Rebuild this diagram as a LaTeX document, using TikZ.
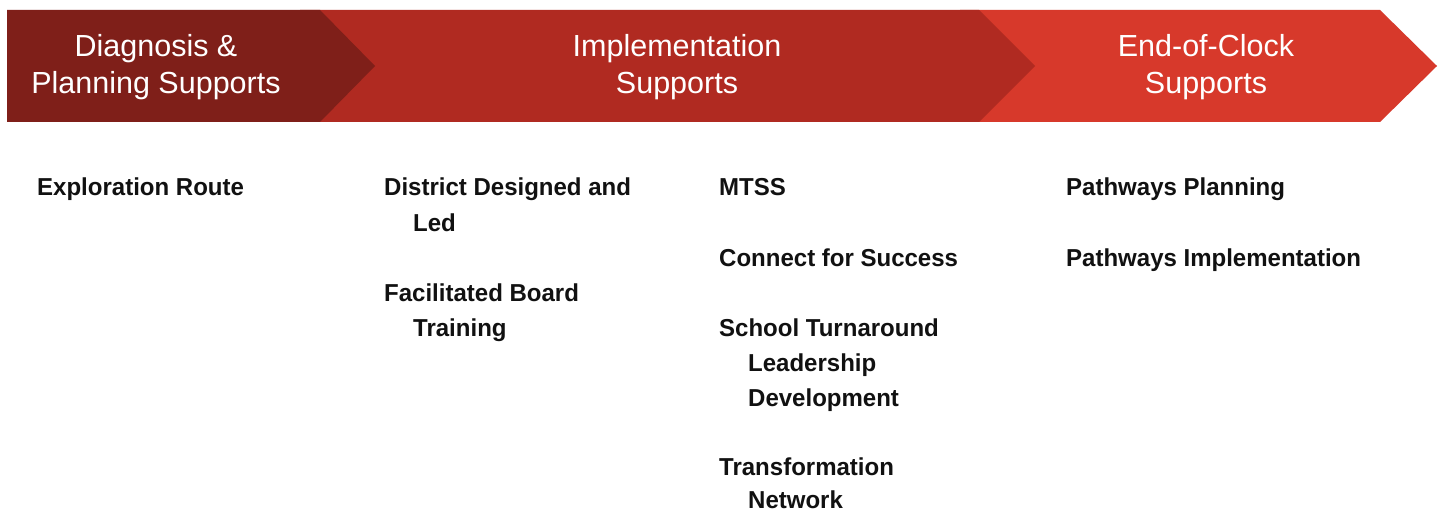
\documentclass[tikz,border=0pt]{standalone}
\usepackage{fontspec}
\setmainfont{Liberation Sans}
\newfontfamily\headfont{Liberation Sans}
\newfontfamily\bodyfont[FakeStretch=0.98]{Liberation Sans Bold}
\definecolor{darkred}{HTML}{7F1F19}
\definecolor{midred}{HTML}{B02A21}
\definecolor{lightred}{HTML}{D7392B}
\definecolor{bodyblack}{HTML}{111111}
\begin{document}
\begin{tikzpicture}[x=1pt,y=-1pt,
  head/.style={text=white,font=\headfont\fontsize{30.5}{36}\selectfont,inner sep=0pt,anchor=base},
  item/.style={text=bodyblack,font=\bodyfont\fontsize{24.5}{35}\selectfont,inner sep=0pt,anchor=base west}]
\useasboundingbox (0,0) rectangle (1440,513);
\fill[white] (0,0) rectangle (1440,513);
% chevrons
\fill[lightred] (960,10) -- (1380,10) -- (1437,66) -- (1380,122) -- (960,122) -- cycle;
\fill[midred] (300,10) -- (979,10) -- (1035,66) -- (979,122) -- (300,122) -- cycle;
\fill[darkred] (7,10) -- (320,10) -- (375,66) -- (320,122) -- (7,122) -- cycle;
% headers
\node[head] (h1a) at (156,57) {Diagnosis \&};
\node[head] (h1b) at (156,94) {Planning Supports};
\node[head] (h2a) at (677,57) {Implementation};
\node[head] (h2b) at (677,94) {Supports};
\node[head] (h3a) at (1206,57) {End-of-Clock};
\node[head] (h3b) at (1206,94) {Supports};
% column 1
\node[item] (er) at (37,196) {Exploration Route};
% column 2
\node[item] (dd1) at (384,196) {District Designed and};
\node[item] (dd2) at (413,231) {Led};
\node[item] (fb1) at (384,301) {Facilitated Board};
\node[item] (fb2) at (413,336) {Training};
% column 3
\node[item] (mt) at (719,196) {MTSS};
\node[item] (cs) at (719,266) {Connect for Success};
\node[item] (st1) at (719,336) {School Turnaround};
\node[item] (st2) at (748,371) {Leadership};
\node[item] (st3) at (748,406) {Development};
\node[item] (tn1) at (719,475) {Transformation};
\node[item] (tn2) at (748,508) {Network};
% column 4
\node[item] (pp) at (1066,196) {Pathways Planning};
\node[item] (pi) at (1066,266) {Pathways Implementation};
\end{tikzpicture}
\end{document}
